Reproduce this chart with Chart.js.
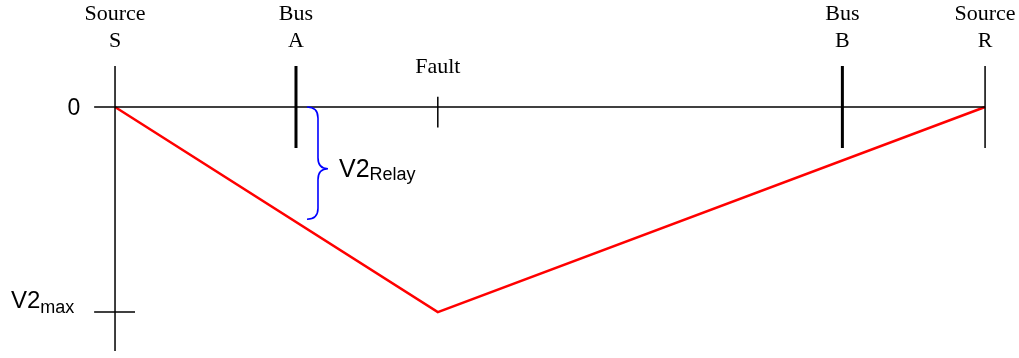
<!DOCTYPE html>
<html>
<head>
<meta charset="utf-8">
<script src="https://cdn.jsdelivr.net/npm/chart.js@4/dist/chart.umd.min.js"></script>
<style>
  html, body { margin: 0; padding: 0; background: #fff; }
  #wrap { width: 1019px; height: 358px; }
</style>
</head>
<body>
<div id="wrap"><canvas id="grafico"></canvas></div>
<script>
// position along the line, Source S = 0, Source R = 100
const stationNames = [["Source", "S"], ["Bus", "A"], ["Bus", "B"], ["Source", "R"]];
const stationPos = [0, 20.8, 83.6, 100];
const stationHeavy = [false, true, true, false];
const faultPos = 37.1;

// negative sequence voltage profile (per unit of V2max, drawn downwards)
const profileX = [0, faultPos, 100];
const profileV2 = [0, -1, 0];
const v2Relay = -0.547;
const v2Max = -1;

function seg(x1, y1, x2, y2, colore, spessore) {
  return {
    data: [{ x: x1, y: y1 }, { x: x2, y: y2 }],
    showLine: true,
    borderColor: colore,
    borderWidth: spessore,
    pointRadius: 0,
    clip: false
  };
}

const datasets = [];
// asse dello zero
datasets.push(seg(-2.4, 0, 100, 0, "#000", 1.5));
// barre e sorgenti
stationPos.forEach((p, i) => {
  const basso = i === 0 ? -1.19 : -0.2;
  datasets.push(seg(p, 0.2, p, basso, "#000", stationHeavy[i] ? 3 : 1.5));
});
// tacca del guasto
datasets.push(seg(faultPos, 0.05, faultPos, -0.1, "#000", 1.5));
// tacca V2max
datasets.push(seg(-2.4, v2Max, 2.3, v2Max, "#000", 1.5));
// profilo V2
datasets.push({
  data: profileX.map((x, i) => ({ x: x, y: profileV2[i] })),
  showLine: true,
  borderColor: "#ff0000",
  borderWidth: 2.5,
  pointRadius: 0,
  tension: 0,
  clip: false
});

const etichette = {
  id: "etichette",
  afterDraw(chart) {
    const ctx = chart.ctx;
    const xs = chart.scales.x, ys = chart.scales.y;
    ctx.save();
    ctx.fillStyle = "#000";
    ctx.textAlign = "center";
    ctx.textBaseline = "alphabetic";
    ctx.font = "22px 'Liberation Serif', 'Times New Roman', serif";
    stationNames.forEach((n, i) => {
      const px = xs.getPixelForValue(stationPos[i]);
      ctx.fillText(n[0], px, 20);
      ctx.fillText(n[1], px, 47);
    });
    ctx.fillText("Fault", xs.getPixelForValue(faultPos), 73);

    // etichette asse verticale
    ctx.font = "23px 'Liberation Sans', Arial, sans-serif";
    ctx.textAlign = "center";
    ctx.fillText("0", 74, ys.getPixelForValue(0) + 8);

    ctx.textAlign = "left";
    const yMax = ys.getPixelForValue(v2Max);
    ctx.font = "24px 'Liberation Sans', Arial, sans-serif";
    ctx.fillText("V2", 11, yMax - 4);
    let w = ctx.measureText("V2").width;
    ctx.font = "18px 'Liberation Sans', Arial, sans-serif";
    ctx.fillText("max", 11 + w, yMax + 1);

    // graffa V2 relay
    const xA = xs.getPixelForValue(stationPos[1]);
    const x0 = xA + 11, x1 = xA + 22, punta = xA + 32;
    const yTop = ys.getPixelForValue(0), yBot = ys.getPixelForValue(v2Relay);
    const yMid = yTop + 0.55 * (yBot - yTop);
    const r = 11;
    ctx.strokeStyle = "#0000ff";
    ctx.lineWidth = 1.6;
    ctx.beginPath();
    ctx.moveTo(x0, yTop);
    ctx.quadraticCurveTo(x1, yTop, x1, yTop + r);
    ctx.lineTo(x1, yMid - r);
    ctx.quadraticCurveTo(x1, yMid, punta, yMid);
    ctx.quadraticCurveTo(x1, yMid, x1, yMid + r);
    ctx.lineTo(x1, yBot - r);
    ctx.quadraticCurveTo(x1, yBot, x0, yBot);
    ctx.stroke();

    ctx.fillStyle = "#000";
    ctx.font = "25px 'Liberation Sans', Arial, sans-serif";
    ctx.fillText("V2", 339, yMid + 8);
    w = ctx.measureText("V2").width;
    ctx.font = "18px 'Liberation Sans', Arial, sans-serif";
    ctx.fillText("Relay", 339 + w, yMid + 11);
    ctx.restore();
  }
};

new Chart(document.getElementById("grafico"), {
  type: "scatter",
  data: { datasets: datasets },
  options: {
    responsive: true,
    maintainAspectRatio: false,
    animation: false,
    layout: { padding: 0 },
    plugins: { legend: { display: false }, tooltip: { enabled: false } },
    scales: {
      x: { type: "linear", display: false, min: -13.22, max: 103.9 },
      y: { type: "linear", display: false, min: -1.224, max: 0.522 }
    }
  },
  plugins: [etichette]
});
</script>
</body>
</html>
